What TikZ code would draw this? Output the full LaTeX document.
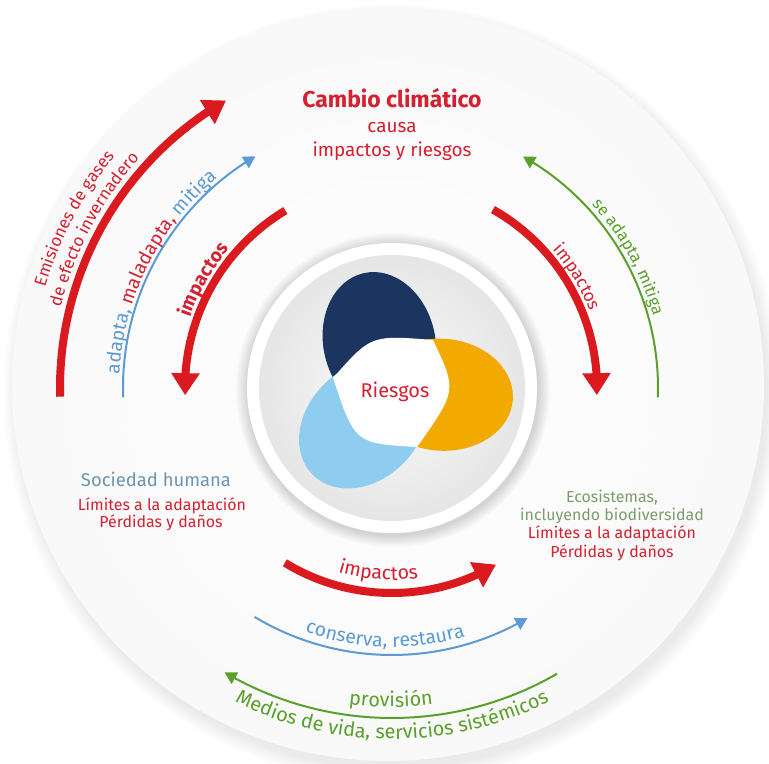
\documentclass[tikz,border=0pt]{standalone}
\usepackage{fontspec}
\setmainfont{Fira Sans}
\usetikzlibrary{arrows.meta,bending,decorations.text}
\definecolor{ipred}{HTML}{DA1A1F}
\definecolor{txtred}{HTML}{D42030}
\definecolor{ipblue}{HTML}{5B9BD5}
\definecolor{ipgreen}{HTML}{5AA02C}
\definecolor{socblue}{HTML}{6C95B5}
\definecolor{ecogreen}{HTML}{7D9C6E}
\definecolor{navy}{HTML}{1C3560}
\definecolor{orng}{HTML}{F2A900}
\definecolor{lblue}{HTML}{8ECDEF}
\newcommand\fsz[1]{\fontsize{#1}{#1}\selectfont}
\tikzset{
  thickarr/.style={line width=8bp, draw=ipred, -{Triangle[length=22bp,width=27bp,flex]}},
  thinarr/.style={line width=2bp, -{Triangle[length=12bp,width=13bp,flex]}},
  lbl/.style={anchor=base, inner sep=0pt},
}
\begin{document}
\begin{tikzpicture}[x=1bp,y=1bp]
\useasboundingbox (-392,-376) rectangle (377,388);
\fill[white] (-392,-376) rectangle (377,388);
% outer disc with soft shadow
\foreach \k in {1,...,10} {\fill[black, opacity=0.007] (0,-5) circle ({374+\k*1.5});}
\shade[inner color=white, outer color=gray!5] (-4,3) circle (376);
% inner circle
\foreach \k in {1,...,8} {\fill[black, opacity=0.018] (1,-2) circle ({145+\k*1.5});}
\fill[white] (0,0) circle (145);
\shade[inner color=gray!3, outer color=gray!20] (0,0) circle (133);
% petals
\fill[navy, shift={(-12.6,45.1)}, rotate=102.5] (0,0) ellipse [x radius=71.5, y radius=56];
\fill[orng, shift={(49.5,-6.7)}, rotate=-4] (0,0) ellipse [x radius=71.5, y radius=56];
\fill[lblue, shift={(-28.7,-36.2)}, rotate=225] (0,0) ellipse [x radius=71.5, y radius=56];
\fill[white] (-59,10) .. controls (-21,53) .. (41,48) .. controls (65,-2.5) .. (25,-59) .. controls (-37,-55.5) .. cycle;
\node[font=\fsz{20}, text=txtred] (riesgos) at (3,-4) {Riesgos};
% title
\node[lbl, font=\bfseries\fsz{23}, text=txtred] (title) at (0,280) {Cambio climático};
\node[lbl, font=\fsz{19}, text=txtred] (causa) at (0,255) {causa};
\node[lbl, font=\fsz{19}, text=txtred] (impr) at (0,231) {impactos y riesgos};
% left block
\node[lbl, font=\fsz{18.5}, text=socblue] (soc) at (-236,-98) {Sociedad humana};
\node[lbl, font=\fsz{16}, text=txtred] (limL) at (-230,-122) {Límites a la adaptación};
\node[lbl, font=\fsz{16}, text=txtred] (perL) at (-231,-139) {Pérdidas y daños};
% right block
\node[lbl, font=\fsz{16}, text=ecogreen] (eco) at (220,-114) {Ecosistemas,};
\node[lbl, font=\fsz{16}, text=ecogreen] (incl) at (220,-132) {incluyendo biodiversidad};
\node[lbl, font=\fsz{16}, text=txtred] (limR) at (220,-150) {Límites a la adaptación};
\node[lbl, font=\fsz{16}, text=txtred] (perR) at (220,-169) {Pérdidas y daños};
% left arrows
\draw[thickarr] (181.5:332) arc[start angle=181.5, end angle=120, radius=332];
\draw[thinarr, ipblue] (182:269) arc[start angle=182, end angle=120.5, radius=269];
\draw[thickarr] (121:207) arc[start angle=121, end angle=182, radius=207];
% right arrows
\draw[thickarr] (60.5:205) arc[start angle=60.5, end angle=-2, radius=205];
\draw[thinarr, ipgreen] (-2:266) arc[start angle=-2, end angle=60.5, radius=266];
% bottom arrows
\draw[thickarr] (238.5:205) arc[start angle=238.5, end angle=300.5, radius=205];
\draw[thinarr, ipblue] (239:267) arc[start angle=239, end angle=300.5, radius=267];
\draw[thinarr, ipgreen] (300:330) arc[start angle=300, end angle=239.5, radius=330];
% curved labels
\path[decorate, decoration={text along path, text align=center, text={|\fsz{17}\color{txtred}|Emisiones de gases}}]
  (200:361) arc[start angle=200, end angle=104, radius=361];
\path[decorate, decoration={text along path, text align=center, text={|\fsz{17}\color{txtred}|de efecto invernadero}}]
  (200:341) arc[start angle=200, end angle=104, radius=341];
\path[decorate, decoration={text along path, text align=center, text={|\fsz{19}\color{ipblue}|adapta, |\fsz{19}\color{txtred}|maladapta, |\fsz{19}\color{ipblue}|mitiga}}]
  (203.4:273) arc[start angle=203.4, end angle=103.4, radius=273];
\path[decorate, decoration={text along path, text align=center, text={|\bfseries\fsz{19}\color{txtred}|impactos}}]
  (190:214) arc[start angle=190, end angle=110, radius=214];
\path[decorate, decoration={text along path, text align=center, text={|\fsz{17.5}\color{txtred}|impactos}}]
  (71:212) arc[start angle=71, end angle=-9, radius=212];
\path[decorate, decoration={text along path, text align=center, text={|\fsz{16.5}\color{ipgreen}|se adapta, mitiga}}]
  (69:271) arc[start angle=69, end angle=-11, radius=271];
\path[decorate, decoration={text along path, text align=center, text={|\fsz{19.5}\color{txtred}|impactos}}]
  (225.8:192) arc[start angle=225.8, end angle=305.8, radius=192];
\path[decorate, decoration={text along path, text align=center, text={|\fsz{19.5}\color{ipblue}|conserva, restaura}}]
  (228.4:259) arc[start angle=228.4, end angle=308.4, radius=259];
\path[decorate, decoration={text along path, text align=center, text={|\fsz{20}\color{ipgreen}|provisión}}]
  (229.8:319) arc[start angle=229.8, end angle=309.8, radius=319];
\path[decorate, decoration={text along path, text align=center, text={|\fsz{20}\color{ipgreen}|Medios de vida, servicios sistémicos}}]
  (225:351) arc[start angle=225, end angle=315, radius=351];
\end{tikzpicture}
\end{document}
